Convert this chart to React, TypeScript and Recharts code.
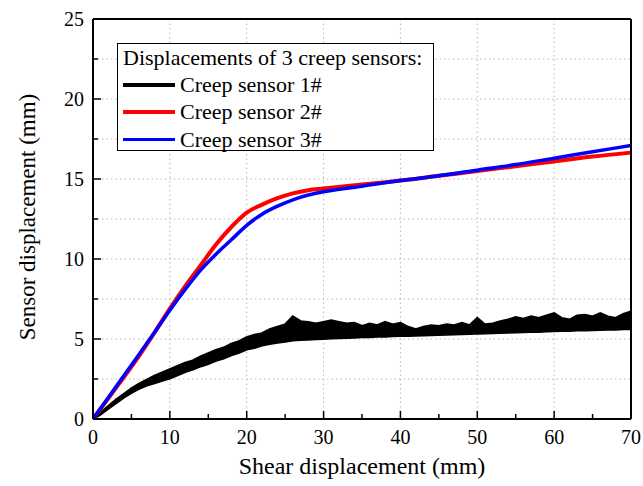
import React from 'react';
import { ComposedChart, Line, Area, XAxis, YAxis, CartesianGrid, Legend } from 'recharts';

const blackX = [0,1,2,3,4,5,6,7,8,9,10,11,12,13,14,15,16,17,18,19,20,21,22,23,24,25,26,27,28,29,30,31,32,33,34,35,36,37,38,39,40,41,42,43,44,45,46,47,48,49,50,51,52,53,54,55,56,57,58,59,60,61,62,63,64,65,66,67,68,69,70];
const blackLow = [0,0.3,0.65,1.0,1.35,1.65,1.9,2.1,2.25,2.4,2.55,2.75,2.95,3.1,3.3,3.45,3.65,3.8,4.0,4.15,4.35,4.45,4.6,4.7,4.78,4.85,4.92,4.95,4.97,5.0,5.02,5.05,5.07,5.08,5.1,5.12,5.13,5.15,5.16,5.18,5.2,5.21,5.22,5.24,5.25,5.27,5.28,5.3,5.31,5.33,5.34,5.36,5.37,5.39,5.4,5.42,5.43,5.45,5.46,5.48,5.5,5.51,5.52,5.54,5.55,5.56,5.58,5.59,5.6,5.62,5.63];
const blackHigh = [0.05,0.4,0.8,1.2,1.55,1.9,2.2,2.45,2.7,2.9,3.1,3.3,3.5,3.65,3.9,4.1,4.3,4.45,4.7,4.85,5.1,5.25,5.35,5.6,5.75,5.9,6.4,6.1,6.05,5.95,6.05,6.15,6.05,5.95,6.0,5.8,5.95,5.85,6.05,5.9,6.0,5.75,5.6,5.75,5.85,5.8,5.9,5.85,6.0,5.85,6.3,5.9,5.95,6.1,6.2,6.35,6.25,6.4,6.3,6.45,6.6,6.3,6.2,6.45,6.5,6.4,6.6,6.4,6.3,6.55,6.7];

const curveX = [0,2,4,6,8,10,12,14,16,18,20,22,24,26,28,30,35,40,45,50,55,60,65,70];
const sensor2 = [0,1.3,2.6,3.95,5.4,6.9,8.3,9.6,10.9,12.0,12.9,13.4,13.8,14.1,14.3,14.4,14.65,14.9,15.2,15.5,15.8,16.1,16.4,16.65];
const sensor3 = [0,1.35,2.7,4.05,5.4,6.8,8.1,9.3,10.3,11.2,12.1,12.8,13.3,13.7,14.0,14.2,14.55,14.9,15.2,15.55,15.9,16.3,16.7,17.1];

const xTicks = [0,5,10,15,20,25,30,35,40,45,50,55,60,65,70];
const yTicks = [0,2.5,5,7.5,10,12.5,15,17.5,20,22.5,25];
const xGrid = [10,20,30,40,50,60];
const yGrid = [2.5,5,7.5,10,12.5,15,17.5,20,22.5];

const legendTitle = 'Displacements of 3 creep sensors:';
const legendNames = ['Creep sensor 1#', 'Creep sensor 2#', 'Creep sensor 3#'];
const legendColors = ['#000000', '#ff0000', '#0000ff'];

const blackData = blackX.map((x, i) => ({ x, range: [blackLow[i], blackHigh[i]] }));
const data2 = curveX.map((x, i) => ({ x, v: sensor2[i] }));
const data3 = curveX.map((x, i) => ({ x, v: sensor3[i] }));

const FONT = "'Liberation Serif', 'Times New Roman', serif";

const BottomTick = (props: any) => {
  const { x, y, payload } = props;
  const major = payload.value % 10 === 0;
  return (
    <g>
      <line x1={x} y1={y} x2={x} y2={y - (major ? 8 : 5)} stroke="#000" strokeWidth={1.5} />
      {major && (
        <text x={x} y={y + 25} textAnchor="middle" fontFamily={FONT} fontSize={20} fill="#000">{payload.value}</text>
      )}
    </g>
  );
};
const TopTick = (props: any) => {
  const { x, y, payload } = props;
  const major = payload.value % 10 === 0;
  return <line x1={x} y1={y} x2={x} y2={y + (major ? 8 : 5)} stroke="#000" strokeWidth={1.5} />;
};
const LeftTick = (props: any) => {
  const { x, y, payload } = props;
  const major = payload.value % 5 === 0;
  return (
    <g>
      <line x1={x} y1={y} x2={x + (major ? 8 : 5)} y2={y} stroke="#000" strokeWidth={1.5} />
      {major && (
        <text x={x - 9} y={y + 7} textAnchor="end" fontFamily={FONT} fontSize={20} fill="#000">{payload.value}</text>
      )}
    </g>
  );
};
const RightTick = (props: any) => {
  const { x, y, payload } = props;
  const major = payload.value % 5 === 0;
  return <line x1={x} y1={y} x2={x - (major ? 8 : 5)} y2={y} stroke="#000" strokeWidth={1.5} />;
};

const LegendBox = () => (
  <div style={{ position: 'relative', width: 317, height: 108, border: '1.5px solid #000', background: '#fff', boxSizing: 'border-box', fontFamily: FONT, fontSize: 22, color: '#000' }}>
    <div style={{ position: 'absolute', left: 5, top: 0, lineHeight: '27px', whiteSpace: 'nowrap' }}>{legendTitle}</div>
    {legendNames.map((n, i) => (
      <div key={n} style={{ position: 'absolute', left: 0, top: 27 + i * 27.3, height: 27, width: 317 }}>
        <div style={{ position: 'absolute', left: 5, top: 12, width: 52, height: 3.5, background: legendColors[i] }} />
        <div style={{ position: 'absolute', left: 62, top: 0, lineHeight: '27px', whiteSpace: 'nowrap' }}>{n}</div>
      </div>
    ))}
  </div>
);

export default function App() {
  return (
    <div style={{ position: 'absolute', left: 0, top: 0, width: 643, height: 486 }}>
      <ComposedChart width={643} height={486} margin={{ top: 18, right: 11, bottom: 0, left: 0 }} style={{ fontFamily: FONT }}>
        <CartesianGrid horizontalValues={yGrid} verticalValues={xGrid} stroke="#b8b8b8" strokeDasharray="1.5 3" strokeWidth={1} />
        <XAxis
          dataKey="x"
          type="number"
          domain={[0, 70]}
          ticks={xTicks}
          interval={0}
          height={67}
          tickSize={0}
          tickMargin={0}
          tickLine={false}
          axisLine={{ stroke: '#000', strokeWidth: 2 }}
          tick={<BottomTick />}
          allowDataOverflow
          label={() => (
            <text x={362} y={474} textAnchor="middle" fontFamily={FONT} fontSize={24} fill="#000">Shear displacement (mm)</text>
          )}
        />
        <XAxis
          xAxisId="top"
          orientation="top"
          dataKey="x"
          type="number"
          domain={[0, 70]}
          ticks={xTicks}
          interval={0}
          height={1}
          tickSize={0}
          tickMargin={0}
          tickLine={false}
          axisLine={{ stroke: '#000', strokeWidth: 2 }}
          tick={<TopTick />}
        />
        <YAxis
          type="number"
          domain={[0, 25]}
          ticks={yTicks}
          interval={0}
          width={93}
          tickSize={0}
          tickMargin={0}
          tickLine={false}
          axisLine={{ stroke: '#000', strokeWidth: 2 }}
          tick={<LeftTick />}
          allowDataOverflow
          label={() => (
            <text x={0} y={0} transform="translate(27, 217) rotate(-90)" textAnchor="middle" dominantBaseline="central" fontFamily={FONT} fontSize={23} fill="#000">Sensor displacement (mm)</text>
          )}
        />
        <YAxis
          yAxisId="r"
          orientation="right"
          type="number"
          domain={[0, 25]}
          ticks={yTicks}
          interval={0}
          width={1}
          tickSize={0}
          tickMargin={0}
          tickLine={false}
          axisLine={{ stroke: '#000', strokeWidth: 2 }}
          tick={<RightTick />}
        />
        <Area data={blackData} dataKey="range" type="linear" stroke="#000" strokeWidth={2.5} fill="#000" fillOpacity={1} isAnimationActive={false} dot={false} activeDot={false} />
        <Line data={data2} dataKey="v" type="monotone" stroke="#ff0000" strokeWidth={4} dot={false} activeDot={false} isAnimationActive={false} />
        <Line data={data3} dataKey="v" type="monotone" stroke="#0000ff" strokeWidth={3.5} dot={false} activeDot={false} isAnimationActive={false} />
        <Legend
          layout="vertical"
          align="center"
          verticalAlign="middle"
          content={() => <LegendBox />}
          wrapperStyle={{ position: 'absolute', left: 117, top: 43, width: 317, height: 108 }}
        />
      </ComposedChart>
    </div>
  );
}
